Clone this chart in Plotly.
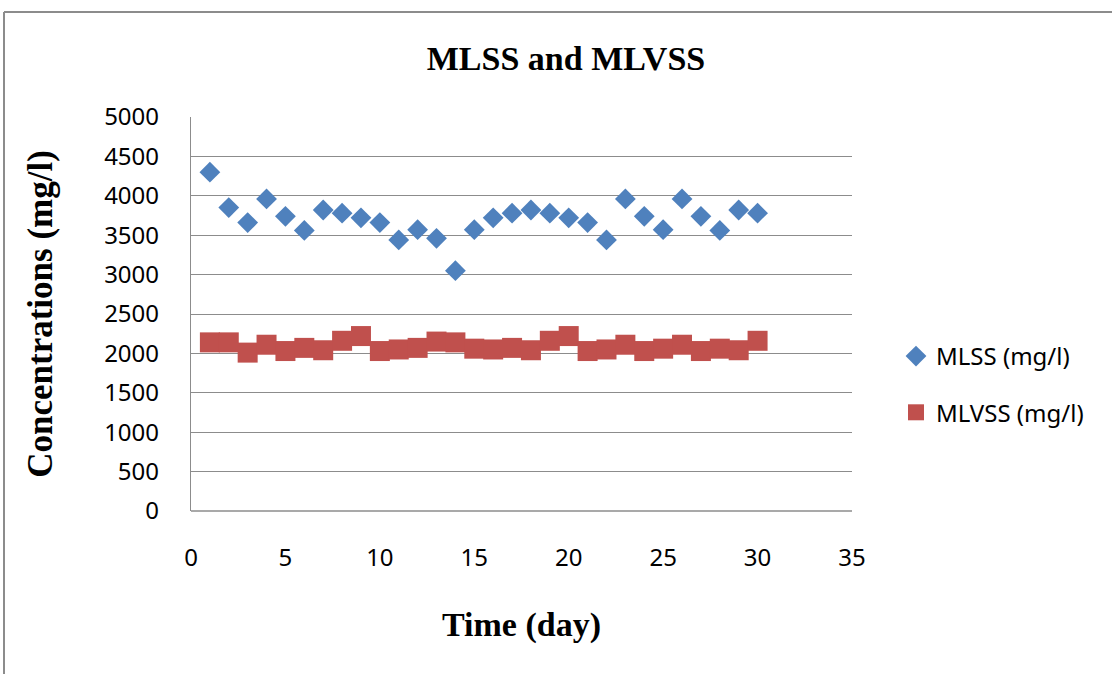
import plotly.graph_objects as go

days = list(range(1, 31))
mlss = [4300, 3850, 3660, 3960, 3740, 3560, 3820, 3780, 3720, 3660,
        3440, 3570, 3460, 3050, 3570, 3720, 3780, 3820, 3780, 3720,
        3660, 3440, 3960, 3740, 3570, 3960, 3740, 3560, 3820, 3780]
mlvss = [2140, 2140, 2010, 2110, 2030, 2070, 2040, 2160, 2220, 2030,
         2050, 2070, 2150, 2140, 2060, 2050, 2070, 2040, 2160, 2220,
         2030, 2050, 2110, 2030, 2060, 2110, 2030, 2060, 2040, 2160]
x_ticks = [0, 5, 10, 15, 20, 25, 30, 35]
y_ticks = [0, 500, 1000, 1500, 2000, 2500, 3000, 3500, 4000, 4500, 5000]

W, H = 1112, 674
L, R, T, B = 191, 852, 117, 511

fig = go.Figure()
fig.add_trace(go.Scatter(x=days, y=mlss, mode="markers", name="MLSS (mg/l)",
                         legendgroup="a",
                         marker=dict(symbol="diamond", size=16, color="#4F81BD")))
fig.add_trace(go.Scatter(x=days, y=mlvss, mode="markers", name="MLVSS (mg/l)",
                         legendgroup="b",
                         marker=dict(symbol="square", size=20, color="#C0504D")))

pw = R - L
ph = B - T
def px(x):
    return (x - L) / pw
def py(y):
    return (B - y) / ph

fig.update_layout(
    width=W, height=H,
    margin=dict(l=L, r=W - R, t=T, b=H - B),
    plot_bgcolor="white", paper_bgcolor="white",
    font=dict(family="Noto Sans, Lato, sans-serif", size=24, color="black"),
    showlegend=True,
    legend=dict(x=px(896), y=py(334), xanchor="left", yanchor="top",
                font=dict(size=24, family="Noto Sans, Lato, sans-serif"),
                tracegroupgap=22, itemwidth=30, bgcolor="rgba(0,0,0,0)"),
    title=dict(text="<b>MLSS and MLVSS</b>", x=566 / W, xanchor="center",
               y=1 - 58 / H, yanchor="middle",
               font=dict(family="Liberation Serif, serif", size=34, color="black")),
    xaxis=dict(range=[0, 35], tickvals=x_ticks, ticktext=[str(v) for v in x_ticks],
               showgrid=False, zeroline=False, showline=False, ticks="",
               tickfont=dict(size=24), ticklabelstandoff=30,
               title=dict(text="<b>Time (day)</b>", standoff=40,
                          font=dict(family="Liberation Serif, serif", size=34))),
    yaxis=dict(range=[0, 5000], tickvals=y_ticks, ticktext=[str(v) for v in y_ticks],
               showgrid=True, gridcolor="#8c8c8c", gridwidth=1.3,
               zeroline=False, showline=True, linecolor="#8c8c8c", linewidth=1.3,
               ticks="", tickfont=dict(size=24), ticklabelstandoff=26,
               title=dict(text="<b>Concentrations (mg/l)</b>", standoff=40,
                          font=dict(family="Liberation Serif, serif", size=35))),
    shapes=[
        dict(type="line", xref="paper", yref="paper", x0=px(4), x1=px(1200),
             y0=py(12), y1=py(12), line=dict(color="#8c8c8c", width=2)),
        dict(type="line", xref="paper", yref="paper", x0=px(4), x1=px(4),
             y0=py(12), y1=py(700), line=dict(color="#8c8c8c", width=2)),
        dict(type="line", xref="paper", yref="paper", x0=0, x1=1,
             y0=0, y1=0, line=dict(color="#8c8c8c", width=1.3)),
    ],
)

fig.write_html("out.html")
